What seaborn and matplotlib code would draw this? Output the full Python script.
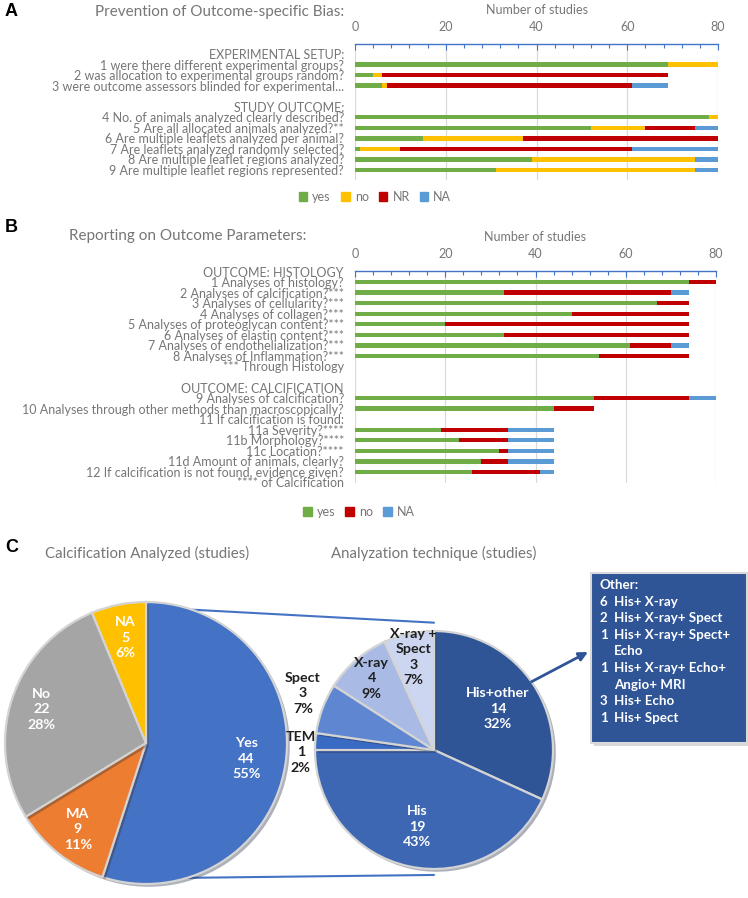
import numpy as np
import matplotlib.pyplot as plt
from matplotlib.patches import Patch, Rectangle, ConnectionPatch
from matplotlib.ticker import MultipleLocator
import matplotlib.patheffects as pe
import seaborn as sns

sns.set_theme(style="white")
plt.rcParams['font.family'] = ['Lato', 'DejaVu Sans']

GREEN, YELLOW, RED, BLUE = "#70AD47", "#FFC000", "#C00000", "#5B9BD5"
AXBLUE = "#4472C4"
TXT = "#767676"

# ---------------- data: panel A ----------------
bias_labels = [
    "EXPERIMENTAL SETUP:",
    "1 were there different experimental groups?",
    "2 was allocation to experimental groups random?",
    "3 were outcome assessors blinded for experimental...",
    " ",
    "STUDY OUTCOME:",
    "4 No. of animals analyzed clearly described?",
    "5 Are all allocated animals analyzed?**",
    "6 Are multiple leaflets analyzed per animal?",
    "7 Are leaflets analyzed randomly selected?",
    "8 Are multiple leaflet regions analyzed?",
    "9 Are multiple leaflet regions represented?",
]
bias_yes = [0, 69, 4, 6, 0, 0, 78, 52, 15, 1, 39, 31]
bias_no = [0, 11, 2, 1, 0, 0, 2, 12, 22, 9, 36, 44]
bias_nr = [0, 0, 63, 54, 0, 0, 0, 11, 43, 51, 0, 0]
bias_na = [0, 0, 0, 8, 0, 0, 0, 5, 0, 19, 5, 5]

# ---------------- data: panel B ----------------
rep_labels = [
    "OUTCOME: HISTOLOGY",
    "1 Analyses of histology?",
    "2 Analyses of calcification?***",
    "3 Analyses of cellularity?***",
    "4 Analyses of collagen?***",
    "5 Analyses of proteoglycan content?***",
    "6 Analyses of elastin content?***",
    "7 Analyses of endothelialization?***",
    "8 Analyses of Inflammation?***",
    "*** Through Histology",
    " ",
    "OUTCOME: CALCIFICATION",
    "9 Analyses of calcification?",
    "10 Analyses through other methods than macroscopically?",
    "11 If calcification is found:",
    "11a Severity?****",
    "11b Morphology?****",
    "11c Location?****",
    "11d Amount of animals, clearly?",
    "12 If calcification is not found, evidence given?",
    "**** of Calcification",
]
rep_yes = [0, 74, 33, 67, 48, 20, 33, 61, 54, 0, 0, 0, 53, 44, 0, 19, 23, 32, 28, 26, 0]
rep_no = [0, 6, 37, 7, 26, 54, 41, 9, 20, 0, 0, 0, 21, 9, 0, 15, 11, 2, 6, 15, 0]
rep_na = [0, 0, 4, 0, 0, 0, 0, 4, 0, 0, 0, 0, 6, 0, 0, 10, 10, 10, 10, 3, 0]

# ---------------- data: panel C ----------------
calc_cats = ["Yes", "MA", "No", "NA"]
calc_vals = [44, 9, 22, 5]
calc_colors = ["#4472C4", "#ED7D31", "#A5A5A5", "#FFC000"]

tech_cats = ["His+other", "His", "TEM", "Spect", "X-ray", "X-ray +\nSpect"]
tech_vals = [14, 19, 1, 3, 4, 3]
tech_colors = ["#2F5597", "#3D67B3", "#3A6BC4", "#5F86D1", "#A9BBE5", "#CCD6F0"]

other_counts = [6, 2, 1, 1, 3, 1]
other_combos = ["His+ X-ray", "His+ X-ray+ Spect", "His+ X-ray+ Spect+\nEcho",
                "His+ X-ray+ Echo+\nAngio+ MRI", "His+ Echo", "His+ Spect"]


def stacked_bars(ax, labels, series):
    cum = np.zeros(len(labels))
    layers = []
    for name, vals, col in series:
        cum = cum + np.asarray(vals, dtype=float)
        layers.append((name, cum.copy(), col))
    # draw the longest (cumulative) first so shorter segments sit on top
    for name, c, col in reversed(layers):
        sns.barplot(x=c, y=labels, order=labels, orient="h", color=col,
                    saturation=1, width=0.42, linewidth=0, errorbar=None, ax=ax)
    ax.set_xlim(0, 80)
    ax.xaxis.tick_top()
    ax.xaxis.set_label_position("top")
    ax.set_xticks([0, 20, 40, 60, 80])
    ax.xaxis.set_minor_locator(MultipleLocator(4))
    ax.tick_params(axis="x", which="both", direction="in", color=AXBLUE,
                   top=True, bottom=False, labelcolor=TXT, labelsize=9, pad=8)
    ax.tick_params(axis="x", which="major", length=4, width=0.8)
    ax.tick_params(axis="x", which="minor", length=3, width=0.8)
    ax.tick_params(axis="y", length=0, labelsize=9, labelcolor=TXT, pad=8)
    ax.grid(axis="x", color="#d9d9d9", lw=0.9)
    ax.set_axisbelow(True)
    for s in ["right", "bottom", "left"]:
        ax.spines[s].set_visible(False)
    ax.spines["top"].set_color(AXBLUE)
    ax.spines["top"].set_linewidth(1.0)
    ax.set_xlabel("Number of studies", color=TXT, fontsize=9, labelpad=5)
    ax.set_ylabel("")


W, H = 748, 898
fig = plt.figure(figsize=(W / 100, H / 100), dpi=100)


def fx(px):
    return px / W


def fy(py):
    return 1 - py / H


# ---------------- panel A ----------------
axA = fig.add_axes([fx(355), fy(180), (718 - 355) / W, (180 - 44) / H])
stacked_bars(axA, bias_labels, [("yes", bias_yes, GREEN), ("no", bias_no, YELLOW),
                                ("NR", bias_nr, RED), ("NA", bias_na, BLUE)])
axA.set_ylim(len(bias_labels) - 1 + 0.95, -0.95)
fig.text(fx(5), fy(12), "A", fontsize=13, fontweight="bold", color="black",
         va="center", family=["Liberation Sans", "DejaVu Sans"])
fig.text(fx(95), fy(12), "Prevention of Outcome-specific Bias:", fontsize=11,
         color=TXT, va="center")
fig.legend(handles=[Patch(color=GREEN, label="yes"), Patch(color=YELLOW, label="no"),
                    Patch(color=RED, label="NR"), Patch(color=BLUE, label="NA")],
           loc="center", bbox_to_anchor=(fx(375), fy(197)), ncol=4, frameon=False,
           fontsize=9, handlelength=0.7, handleheight=0.7, handletextpad=0.4,
           columnspacing=0.8, labelcolor=TXT)

# ---------------- panel B ----------------
axB = fig.add_axes([fx(355), fy(483), (716 - 355) / W, (483 - 271) / H])
stacked_bars(axB, rep_labels, [("yes", rep_yes, GREEN), ("no", rep_no, RED),
                               ("NA", rep_na, BLUE)])
axB.set_ylim(len(rep_labels) - 1 + 0.05, -0.05)
fig.text(fx(5), fy(228), "B", fontsize=13, fontweight="bold", color="black",
         va="center", family=["Liberation Sans", "DejaVu Sans"])
fig.text(fx(69), fy(236), "Reporting on Outcome Parameters:", fontsize=11,
         color=TXT, va="center")
fig.legend(handles=[Patch(color=GREEN, label="yes"), Patch(color=RED, label="no"),
                    Patch(color=BLUE, label="NA")],
           loc="center", bbox_to_anchor=(fx(359), fy(512)), ncol=3, frameon=False,
           fontsize=9, handlelength=0.7, handleheight=0.7, handletextpad=0.4,
           columnspacing=0.8, labelcolor=TXT)

# ---------------- panel C ----------------
fig.text(fx(5), fy(547), "C", fontsize=13, fontweight="bold", color="black",
         va="center", family=["Liberation Sans", "DejaVu Sans"])
fig.text(fx(147), fy(553), "Calcification Analyzed (studies)", fontsize=10.8,
         color=TXT, va="center", ha="center")
fig.text(fx(434), fy(553), "Analyzation technique (studies)", fontsize=10.8,
         color=TXT, va="center", ha="center")

shadow = [pe.SimplePatchShadow(offset=(2, -2), alpha=0.35), pe.Normal()]


def draw_pie(ax, cats, vals, colors, dists, txt_colors, shifts=None):
    total = sum(vals)
    if shifts is None:
        shifts = [0] * len(vals)
    wedges, _ = ax.pie(vals, colors=colors, startangle=90, counterclock=False,
                       radius=1, wedgeprops=dict(edgecolor="#d4d4d4", linewidth=1.6))
    for w in wedges:
        w.set_path_effects(shadow)
    for w, c, v, d, tc, s in zip(wedges, cats, vals, dists, txt_colors, shifts):
        ang = np.deg2rad((w.theta1 + w.theta2) / 2 + s)
        ax.text(d * np.cos(ang), d * np.sin(ang), f"{c}\n{v}\n{round(v / total * 100)}%",
                ha="center", va="center", color=tc, fontsize=10.3, fontweight="bold",
                linespacing=1.35)
    ax.set_xlim(-1, 1)
    ax.set_ylim(-1, 1)
    ax.set_aspect("equal")
    ax.axis("off")


axL = fig.add_axes([fx(5), fy(884), 282 / W, 282 / H])
draw_pie(axL, calc_cats, calc_vals, calc_colors, [0.72, 0.78, 0.78, 0.76],
         ["white"] * 4)

axR = fig.add_axes([fx(315), fy(869), 238 / W, 238 / H])
draw_pie(axR, tech_cats, tech_vals, tech_colors, [0.64, 0.66, 1.12, 1.2, 0.8, 0.8],
         ["white", "white", "#1f1f1f", "#1f1f1f", "#1f1f1f", "#1f1f1f"],
         shifts=[0, 0, 5, -3, 0, 0])

# connector lines from the "Yes" slice to the second pie
for a_deg, yb in [(71, 1.07), (-73, -1.05)]:
    a = np.deg2rad(a_deg)
    con = ConnectionPatch(xyA=(np.cos(a), np.sin(a)), coordsA=axL.transData,
                          xyB=(0, yb), coordsB=axR.transData,
                          color=AXBLUE, lw=1.5, zorder=0)
    fig.add_artist(con)

# "Other" box
fig.add_artist(Rectangle((fx(594), fy(746)), 156 / W, 170 / H, transform=fig.transFigure,
                         facecolor="#bfbfbf", edgecolor="none", alpha=0.6, zorder=1))
fig.add_artist(Rectangle((fx(591), fy(743)), 156 / W, 170 / H, transform=fig.transFigure,
                         facecolor="#2F5597", edgecolor="#d9d9d9", lw=1.5, zorder=2))
box_font = dict(ha="left", va="center", color="white", fontsize=9.6,
                fontweight="bold", zorder=3)
line_y = 585
fig.text(fx(600), fy(line_y), "Other:", **box_font)
for n, combo in zip(other_counts, other_combos):
    for k, part in enumerate(combo.split("\n")):
        line_y += 16.6
        if k == 0:
            fig.text(fx(600), fy(line_y), str(n), **box_font)
        fig.text(fx(614), fy(line_y), part, **box_font)

a = np.deg2rad(35)
arrow = ConnectionPatch(xyA=(np.cos(a), np.sin(a)), coordsA=axR.transData,
                        xyB=(fx(588), fy(652)), coordsB=fig.transFigure,
                        arrowstyle="-|>", mutation_scale=13, color="#2F5597", lw=2)
fig.add_artist(arrow)

fig.savefig("out.png", dpi=100)
